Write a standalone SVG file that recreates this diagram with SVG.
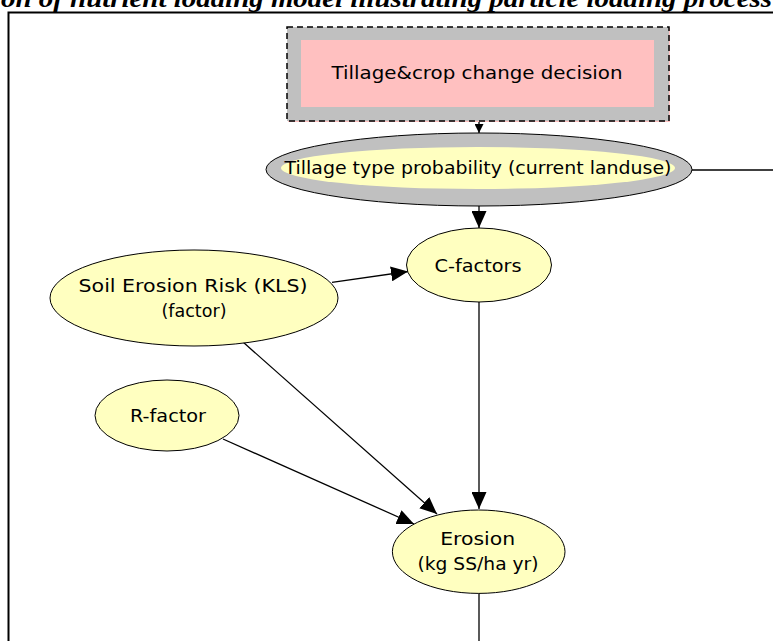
<svg xmlns="http://www.w3.org/2000/svg" width="773" height="641" viewBox="0 0 773 641">
<style>
.lbl{font-family:"DejaVu Sans","Liberation Sans",sans-serif;font-size:18px;fill:#000;text-anchor:middle}
.node{fill:#ffffc0;stroke:#000;stroke-width:1}
.edge{stroke:#000;stroke-width:1.3;fill:none}
.title{font-family:"Liberation Serif","Times New Roman",serif;font-size:26px;font-weight:bold;font-style:italic;fill:#000}
</style>
<defs>
<marker id="arr" markerUnits="userSpaceOnUse" markerWidth="17" markerHeight="15" refX="17" refY="7.5" orient="auto">
<path d="M0,0 L17,7.5 L0,15 z" fill="#000"/>
</marker>
<marker id="arrs" markerUnits="userSpaceOnUse" markerWidth="9" markerHeight="9" refX="9" refY="4.5" orient="auto">
<path d="M0,0 L9,4.5 L0,9 z" fill="#000"/>
</marker>
</defs>
<rect width="773" height="641" fill="#fff"/>
<text class="title" x="1" y="7" textLength="771" lengthAdjust="spacingAndGlyphs">on of nutrient loading model illustrating particle loading process</text>
<path d="M8.5,641 V12.5 H773" stroke="#000" stroke-width="2" fill="none"/>

<g id="connectors">
<line class="edge" x1="479" y1="122" x2="479" y2="133" marker-end="url(#arrs)"/>
<line class="edge" x1="479" y1="206" x2="479" y2="228" marker-end="url(#arr)"/>
<line class="edge" x1="692" y1="170" x2="773" y2="170"/>
<line class="edge" x1="332" y1="282.3" x2="408" y2="271.5" marker-end="url(#arr)"/>
<line class="edge" x1="479" y1="302" x2="479" y2="509" marker-end="url(#arr)"/>
<line class="edge" x1="243" y1="342" x2="437" y2="514" marker-end="url(#arr)"/>
<line class="edge" x1="223" y1="439" x2="414" y2="524" marker-end="url(#arr)"/>
<line class="edge" x1="479" y1="593" x2="479" y2="641"/>
</g>

<g id="decision">
<rect x="288" y="28" width="382" height="94" fill="#ffc0c0"/>
<rect x="287" y="27" width="382" height="94" fill="#c0c0c0" stroke="#000" stroke-width="1.5" stroke-dasharray="6 4"/>
<rect x="301" y="40" width="353" height="67" fill="#ffc0c0"/>
<text class="lbl" x="477" y="79" textLength="291" lengthAdjust="spacingAndGlyphs">Tillage&amp;crop change decision</text>
</g>

<g id="tillage-type">
<ellipse cx="479" cy="169.5" rx="213" ry="36.5" fill="#c0c0c0" stroke="#000" stroke-width="1"/>
<ellipse cx="478" cy="168" rx="197" ry="21" fill="#ffffc0"/>
<text class="lbl" x="478" y="174" textLength="387" lengthAdjust="spacingAndGlyphs">Tillage type probability (current landuse)</text>
</g>

<g id="c-factors">
<ellipse class="node" cx="479" cy="265" rx="72.5" ry="37"/>
<text class="lbl" x="478" y="271.5" textLength="87" lengthAdjust="spacingAndGlyphs">C-factors</text>
</g>

<g id="soil-erosion-risk">
<ellipse class="node" cx="194" cy="298" rx="144" ry="48"/>
<text class="lbl" x="193" y="291.5" textLength="229" lengthAdjust="spacingAndGlyphs">Soil Erosion Risk (KLS)</text>
<text class="lbl" x="194" y="316.5" textLength="65" lengthAdjust="spacingAndGlyphs">(factor)</text>
</g>

<g id="r-factor">
<ellipse class="node" cx="167" cy="415.5" rx="72" ry="35.5"/>
<text class="lbl" x="168" y="421.5" textLength="76" lengthAdjust="spacingAndGlyphs">R-factor</text>
</g>

<g id="erosion">
<ellipse class="node" cx="478.7" cy="551.7" rx="86.3" ry="41.7"/>
<text class="lbl" x="477.7" y="544.5" textLength="75" lengthAdjust="spacingAndGlyphs">Erosion</text>
<text class="lbl" x="478" y="569.5" textLength="121" lengthAdjust="spacingAndGlyphs">(kg SS/ha yr)</text>
</g>
</svg>
